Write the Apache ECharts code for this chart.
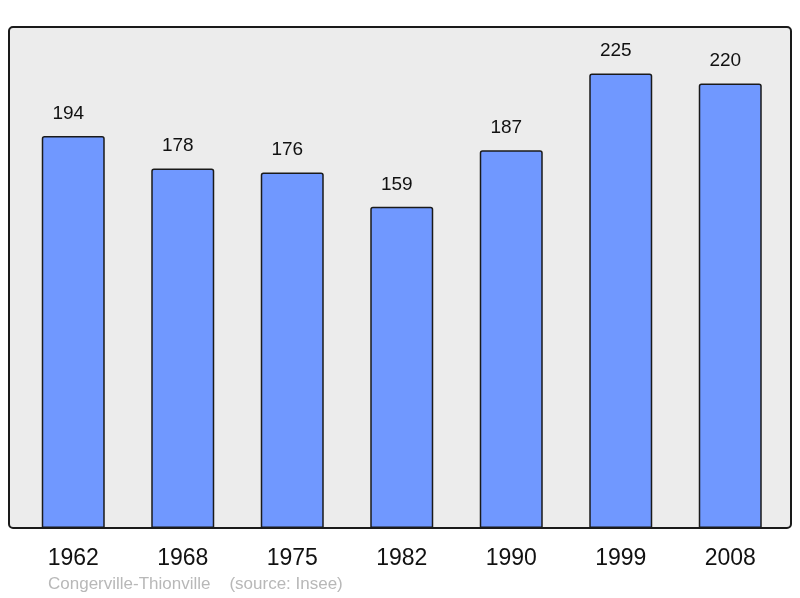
<!DOCTYPE html>
<html>
<head>
<meta charset="utf-8">
<script src="https://cdn.jsdelivr.net/npm/echarts@6/dist/echarts.min.js"></script>
<style>
html,body{margin:0;padding:0;background:#fff;}
#main{width:800px;height:598px;}
</style>
</head>
<body>
<div id="main"></div>
<script>
var years = ['1962', '1968', '1975', '1982', '1990', '1999', '2008'];
var population = [194, 178, 176, 159, 187, 225, 220];
var footer = 'Congerville-Thionville    (source: Insee)';

var myChart = echarts.init(document.getElementById('main'));

var option = {
    animation: false,
    backgroundColor: '#ffffff',
    grid: {
        left: 18.5,
        right: 15,
        top: 27,
        bottom: 70
    },
    graphic: [
        {
            type: 'rect',
            z: -10,
            shape: {x: 9, y: 27, width: 782, height: 501, r: 4},
            style: {fill: '#ececec', stroke: 'none'}
        },
        {
            type: 'rect',
            z: 100,
            shape: {x: 9, y: 27, width: 782, height: 501, r: 4},
            style: {fill: 'none', stroke: '#1a1a1a', lineWidth: 2}
        },
        {
            type: 'text',
            left: 48,
            top: 576,
            style: {
                text: footer,
                fill: '#b8b8b8',
                fontSize: 17,
                fontFamily: 'Liberation Sans, Arial, sans-serif'
            }
        }
    ],
    xAxis: {
        type: 'category',
        data: years,
        axisLine: {show: false},
        axisTick: {show: false},
        axisLabel: {
            color: '#111',
            fontSize: 23,
            margin: 19,
            fontFamily: 'Liberation Sans, Arial, sans-serif'
        }
    },
    yAxis: {
        type: 'value',
        min: 0,
        max: 248,
        show: false,
        splitLine: {show: false}
    },
    series: [
        {
            type: 'bar',
            data: population,
            barWidth: 63,
            itemStyle: {
                color: '#7098ff',
                borderColor: '#1a1a1a',
                borderWidth: 1.5,
                borderRadius: [2, 2, 0, 0]
            },
            label: {
                show: true,
                position: 'top',
                distance: 13,
                offset: [-5, 0],
                color: '#111',
                fontSize: 19,
                fontFamily: 'Liberation Sans, Arial, sans-serif'
            }
        }
    ]
};

myChart.setOption(option);
</script>
</body>
</html>
